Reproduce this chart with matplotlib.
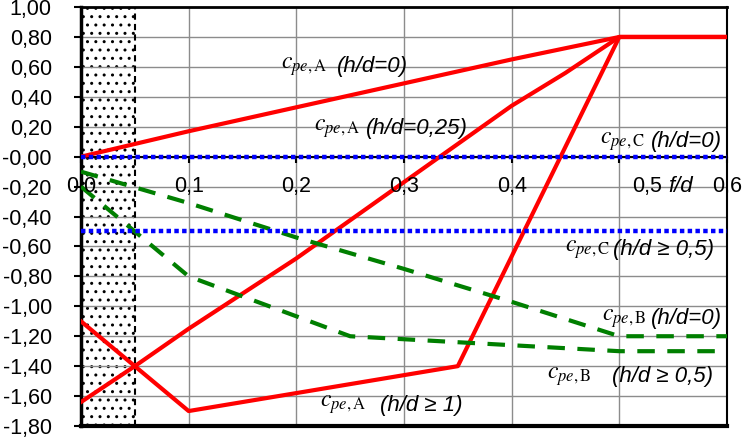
import numpy as np
import matplotlib as mpl
mpl.use('Agg')
mpl.rcParams['font.family'] = ['Liberation Sans', 'DejaVu Sans']
mpl.rcParams['mathtext.fontset'] = 'stix'
mpl.rcParams['hatch.linewidth'] = 1.0
import matplotlib.pyplot as plt

# f/d positions and c_pe values
fd = [0.0, 0.1, 0.2, 0.3, 0.4, 0.5, 0.6]
cpeA_0 = [0.0, 0.17, 0.33, 0.49, 0.65, 0.8, 0.8]

fd_A25 = [0.0, 0.05, 0.1, 0.2, 0.3, 0.4, 0.45, 0.5, 0.6]
cpeA_25 = [-1.64, -1.40, -1.15, -0.68, -0.17, 0.34, 0.56, 0.8, 0.8]

fd_A1 = [0.0, 0.1, 0.35, 0.5, 0.6]
cpeA_1 = [-1.1, -1.7, -1.4, 0.8, 0.8]

fd_B0 = [0.0, 0.1, 0.2, 0.3, 0.4, 0.5, 0.6]
cpeB_0 = [-0.1, -0.31, -0.54, -0.75, -0.97, -1.2, -1.2]

fd_B05 = [0.0, 0.1, 0.25, 0.5, 0.6]
cpeB_05 = [-0.2, -0.8, -1.2, -1.3, -1.3]

fd_C = [0.0, 0.6]
cpeC_0 = [0.0, 0.0]
cpeC_05 = [-0.5, -0.5]

xticks = [0.0, 0.1, 0.2, 0.3, 0.4, 0.5, 0.6]
yticks = np.round(np.arange(-1.8, 1.01, 0.2), 2)
hatch_end = 0.05

# curve labels: (x, y, subscript, condition, gap in points)
labels = [
    (0.186, 0.60, 'A', '(h/d=0)', 7),
    (0.216, 0.19, 'A', '(h/d=0,25)', 4.5),
    (0.482, 0.10, 'C', '(h/d=0)', 4.5),
    (0.450, -0.62, 'C', '(h/d ≥ 0,5)', 1.5),
    (0.484, -1.08, 'B', '(h/d=0)', 3.5),
    (0.433, -1.47, 'B', '(h/d ≥ 0,5)', 15),
    (0.222, -1.66, 'A', '(h/d ≥ 1)', 10),
]

red = '#ff0000'
green = '#007f00'
blue = '#0000ff'

fig = plt.figure(figsize=(7.47, 4.41), dpi=100)
ax = fig.add_axes([0.1084, 0.034, 0.8648, 0.950])

ax.set_xlim(0, 0.6)
ax.set_ylim(-1.8, 1.0)

# dotted zone near f/d = 0
ax.axvspan(0, hatch_end, facecolor='white', edgecolor='black', hatch='..',
           linewidth=0, zorder=0.2)
ax.axvline(hatch_end, color='black', ls=(0, (3, 2)), lw=1.5, zorder=1)

ax.set_xticks(xticks)
ax.set_yticks(yticks)
ax.set_yticklabels([f'{v:.2f}'.replace('.', ',') for v in yticks], fontsize=15.5)
ax.set_axisbelow(True)
ax.grid(True, color='#8c8c8c', lw=1)

ax.spines['bottom'].set_position(('data', 0))
ax.spines['bottom'].set_linewidth(1.5)
ax.spines['left'].set_linewidth(2.5)
ax.spines['top'].set_linewidth(2)
ax.spines['right'].set_linewidth(1.5)
ax.axhline(-1.8, color='black', lw=3, clip_on=False, zorder=5)

ax.tick_params(axis='x', direction='out', length=4, width=1.5, labelbottom=False)
ax.tick_params(axis='y', direction='out', length=5, width=1.5, pad=16)

for t in xticks:
    lab = f'{t:.1f}'.replace('.', ',')
    xpos = t + 0.026 if t == 0.5 else t
    ax.text(xpos, -0.2, lab, ha='center', va='center', fontsize=15.5, zorder=6)

lw_line = 3
ax.plot(fd, cpeA_0, color=red, lw=lw_line, zorder=3)
ax.plot(fd_A25, cpeA_25, color=red, lw=lw_line, zorder=3)
ax.plot(fd_A1, cpeA_1, color=red, lw=lw_line, zorder=3)
ax.plot(fd_B0, cpeB_0, color=green, lw=3, ls=(0, (4.2, 3.0)), zorder=3)
ax.plot(fd_B05, cpeB_05, color=green, lw=3, ls=(0, (4.2, 3.0)), zorder=3)
ax.plot(fd_C, cpeC_0, color=blue, lw=3.2, ls=(0, (1, 0.75)),
        dash_capstyle='butt', zorder=4)
ax.plot(fd_C, cpeC_05, color=blue, lw=3.2, ls=(0, (1, 0.75)),
        dash_capstyle='butt', zorder=4)

for x, y, sub, cond, gap in labels:
    sym = ax.text(x, y, r'$c_{pe,\mathrm{%s}}$' % sub, fontsize=17,
                  va='center', ha='left', zorder=6)
    ax.annotate(cond, xy=(1, 0.5), xycoords=sym, xytext=(gap, 0),
                textcoords='offset points', fontsize=16, style='italic',
                va='center', ha='left', zorder=6)

ax.text(0.545, -0.20, 'f/d', fontsize=16, style='italic', va='center',
        ha='left', zorder=6)

fig.savefig('out.png', dpi=100)
